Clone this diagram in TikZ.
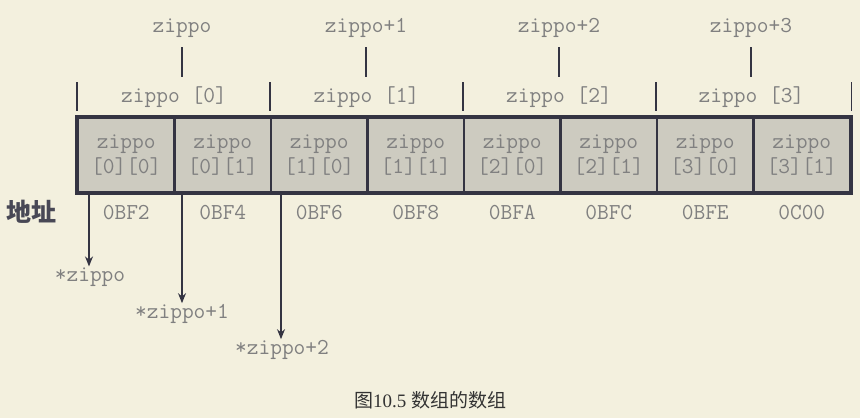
\documentclass[tikz,border=0pt]{standalone}
\usepackage{fontspec}
\setmainfont{Liberation Serif}
\newfontfamily\cjk{Noto Sans CJK SC}
\usetikzlibrary{positioning,arrows.meta}
\definecolor{paper}{RGB}{243,240,222}
\definecolor{cellfill}{RGB}{205,203,192}
\definecolor{ink}{RGB}{52,52,66}
\definecolor{txt}{RGB}{128,128,128}
\tikzset{
  mono/.style={font=\ttfamily\fontsize{22.8}{25}\selectfont, text=txt, inner sep=1pt},
  cell/.style={mono, draw=ink, line width=2.5pt, fill=cellfill,
    minimum width=96.5pt, minimum height=74pt, align=center},
  tick/.style={draw=ink, line width=1.5pt},
  ptr/.style={draw=ink, line width=1.5pt, -{Stealth[length=10pt,width=8pt]}},
}

\begin{document}
\begin{tikzpicture}[x=1pt,y=-1pt]
  \fill[paper] (0,0) rectangle (860,418);
  \useasboundingbox (0,0) rectangle (860,418);
  % the eight cells
  \foreach \i/\j [count=\n] in {0/0,0/1,1/0,1/1,2/0,2/1,3/0,3/1}
    \node[cell] (c\n) at (78+96.5*\n-48.25,155) {zippo\\{}[\i][\j]};
  \draw[ink, line width=3pt] (c1.north west) rectangle (c8.south east);
  % rows zippo[0] .. zippo[3]
  \foreach \g in {0,...,3}
    \node[mono] (g\g) at (174+192.5*\g,97) {zippo [\g]};
  \foreach \k in {1,3,5,7}
    \draw[tick] (c\k.north west) ++(0,-6) -- ++(0,-29);
  \draw[tick] (c8.north east) ++(0,-6) -- ++(0,-29);
  % zippo, zippo+1, ...
  \node[mono] (t0) at (182,28) {zippo};
  \node[mono] (t1) at (366,28) {zippo+1};
  \node[mono] (t2) at (559,28) {zippo+2};
  \node[mono] (t3) at (751,28) {zippo+3};
  \foreach \g in {0,...,3}
    \draw[tick] (t\g |- 0,47) -- (t\g |- 0,77);
  % addresses
  \node[font=\cjk\bfseries\fontsize{25}{25}\selectfont, text=ink!90] (addr) at (31,212) {地址};
  \foreach \a [count=\n] in {0BF2,0BF4,0BF6,0BF8,0BFA,0BFC,0BFE,0C00}
    \node[mono] (a\n) at (c\n |- 0,213) {\a};
  % pointers
  \coordinate (p0) at (89,192);
  \coordinate (p1) at (182,192);
  \coordinate (p2) at (281,192);
  \node[mono] (s0) at (90,277) {*zippo};
  \node[mono] (s1) at (182,314) {*zippo+1};
  \node[mono] (s2) at (282,350) {*zippo+2};
  \foreach \k in {0,1,2}
    \draw[ptr] (p\k) -- (p\k |- s\k.north);
  % caption
  \node[text=black!80, font=\fontsize{19}{19}\selectfont] (cap) at (430,400)
    {{\cjk 图}10.5 {\cjk 数组的数组}};
\end{tikzpicture}
\end{document}
